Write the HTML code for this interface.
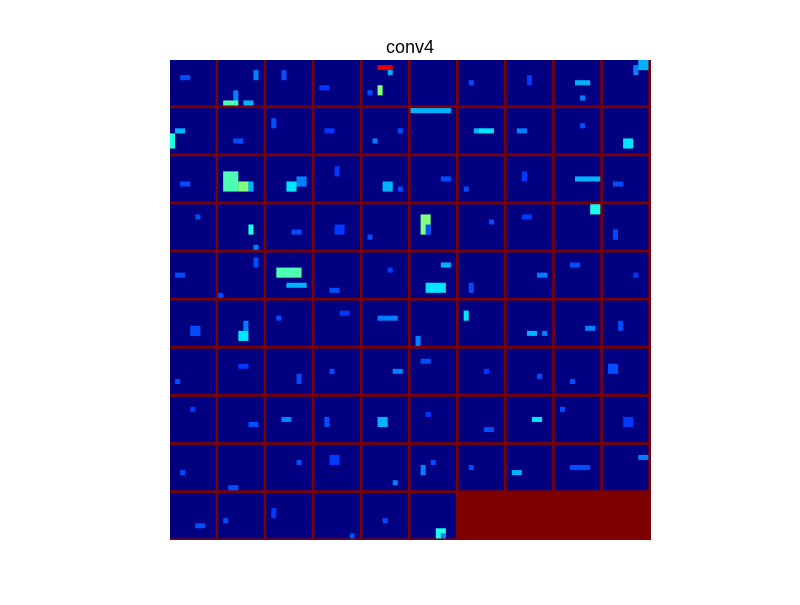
<!DOCTYPE html>
<html><head><meta charset="utf-8"><style>
body{margin:0;background:#fff;width:800px;height:600px;overflow:hidden;font-family:"Liberation Sans",sans-serif}
</style></head><body>
<svg width="800" height="600">
<text x="410" y="53" text-anchor="middle" font-size="18" font-family="Liberation Sans, sans-serif">conv4</text>
<rect x="170" y="60" width="481" height="480" fill="#7f0000"/>
<g id="tiles"></g>
</svg>
<script>
const nFilters = 96;
const gridCols = 10;
const tileRes = 9;
// spots: [filterIndex, col, row, width, height, activation 0..1]
const spotFilter = [1,1,1,1,4,4,4,4,8,8,9,9,10,10,14,14,15,16,16,17,19,21,21,21,22,22,24,24,28,31,31,32,35,35,38,41,41,42,42,43,45,45,47,51,51,54,55,56,57,57,58,63,64,67,72,74,74,77,81,84,85,85,87,88,89,91,93,95,95,0,2,3,6,7,11,12,13,18,20,23,25,26,27,29,30,33,34,36,37,39,40,44,46,48,49,50,52,53,59,60,61,62,65,66,68,69,70,71,73,75,76,78,79,80,82,83,86,90,92,94];
const spotCol    = [1,5,7,3,3,3,5,1,4,5,6,7,0,1,2,7,0,3,4,2,4,1,4,6,4,6,4,7,4,6,7,5,2,3,7,0,7,2,4,3,3,6,6,4,5,3,1,1,4,7,6,3,6,6,3,3,4,5,2,6,2,4,1,3,7,1,7,5,6,2,3,1,2,4,3,1,2,5,2,4,6,1,3,2,5,4,1,6,3,2,1,5,2,3,6,4,2,5,3,1,4,6,2,5,3,1,4,6,2,3,5,1,4,2,6,3,2,5,1,4];
const spotRow    = [8,8,2,6,1,5,2,6,4,7,1,0,5,4,6,4,0,4,4,4,6,3,5,5,5,4,5,6,4,4,8,5,2,4,0,8,1,3,6,7,6,2,4,6,4,3,7,2,6,6,5,4,4,5,4,4,5,4,8,7,4,3,5,4,2,5,8,7,8,3,2,5,4,3,6,2,4,3,5,2,4,6,3,5,2,4,6,3,2,5,4,3,6,2,4,5,3,2,4,6,3,5,2,4,6,3,2,5,4,3,6,2,4,5,3,2,4,6,3,5];
const spotW      = [3,2,1,1,3,1,1,1,3,1,1,2,1,2,1,1,8,2,3,2,2,3,2,1,2,2,2,1,5,1,1,2,2,1,2,1,1,5,4,2,4,2,2,2,1,4,1,1,2,1,2,1,2,1,2,2,1,2,2,1,1,1,2,4,2,1,1,2,1,2,1,2,1,1,2,1,2,1,2,1,2,1,1,2,1,2,1,1,2,1,2,1,1,2,1,2,1,2,1,1,2,1,2,1,1,2,1,2,1,1,2,1,2,1,1,2,1,2,1,1];
const spotH      = [1,1,2,2,1,2,1,1,1,1,2,2,3,1,1,1,1,1,1,1,2,4,2,2,2,2,2,1,1,2,1,1,4,2,2,1,2,2,1,1,2,1,1,2,2,1,2,2,1,1,1,1,1,1,1,2,1,1,1,1,2,1,1,1,1,1,1,2,1,1,2,1,1,2,1,2,1,1,1,2,1,1,2,1,1,2,1,1,1,2,1,1,2,1,1,2,1,1,2,1,1,2,1,1,1,2,1,1,2,1,1,1,2,1,1,2,1,1,2,1];
const spotVal    = [0.45,0.3,0.25,0.25,0.9,0.5,0.3,0.2,0.3,0.25,0.25,0.3,0.4,0.3,0.25,0.2,0.3,0.3,0.35,0.25,0.35,0.45,0.5,0.3,0.35,0.25,0.3,0.2,0.3,0.4,0.25,0.2,0.5,0.2,0.4,0.2,0.2,0.45,0.3,0.2,0.35,0.3,0.25,0.35,0.25,0.25,0.25,0.35,0.3,0.25,0.25,0.2,0.25,0.2,0.25,0.3,0.3,0.35,0.2,0.25,0.25,0.2,0.3,0.2,0.25,0.2,0.2,0.4,0.25,0.2,0.2,0.18,0.2,0.18,0.2,0.2,0.18,0.2,0.2,0.18,0.2,0.2,0.18,0.2,0.2,0.18,0.2,0.2,0.18,0.2,0.2,0.18,0.2,0.2,0.18,0.2,0.2,0.18,0.2,0.2,0.18,0.2,0.2,0.18,0.2,0.2,0.18,0.2,0.2,0.18,0.2,0.2,0.18,0.2,0.2,0.18,0.2,0.2,0.18,0.2];

function jet(v){
  const c=x=>Math.round(255*Math.max(0,Math.min(1,x)));
  return `rgb(${c(1.5-Math.abs(4*v-3))},${c(1.5-Math.abs(4*v-2))},${c(1.5-Math.abs(4*v-1))})`;
}
const x0=170,y0=60,pitch=48.1,tile=45.5,px=tile/tileRes;
const g=document.getElementById('tiles');
const NS='http://www.w3.org/2000/svg';
for(let i=0;i<nFilters;i++){
  const tx=x0+(i%gridCols)*pitch, ty=y0+Math.floor(i/gridCols)*pitch;
  const r=document.createElementNS(NS,'rect');
  r.setAttribute('x',tx);r.setAttribute('y',ty);r.setAttribute('width',tile);r.setAttribute('height',tile);
  r.setAttribute('fill',jet(0));
  
  
  g.appendChild(r);
}
for(let k=0;k<spotFilter.length;k++){
  const i=spotFilter[k];
  const tx=x0+(i%gridCols)*pitch, ty=y0+Math.floor(i/gridCols)*pitch;
  const r=document.createElementNS(NS,'rect');
  r.setAttribute('x',tx+spotCol[k]*px);r.setAttribute('y',ty+spotRow[k]*px);
  r.setAttribute('width',Math.min(spotW[k],tileRes-spotCol[k])*px);
  r.setAttribute('height',Math.min(spotH[k],tileRes-spotRow[k])*px);
  r.setAttribute('fill',jet(spotVal[k]));
  
  
  g.appendChild(r);
}
</script>
</body></html>
